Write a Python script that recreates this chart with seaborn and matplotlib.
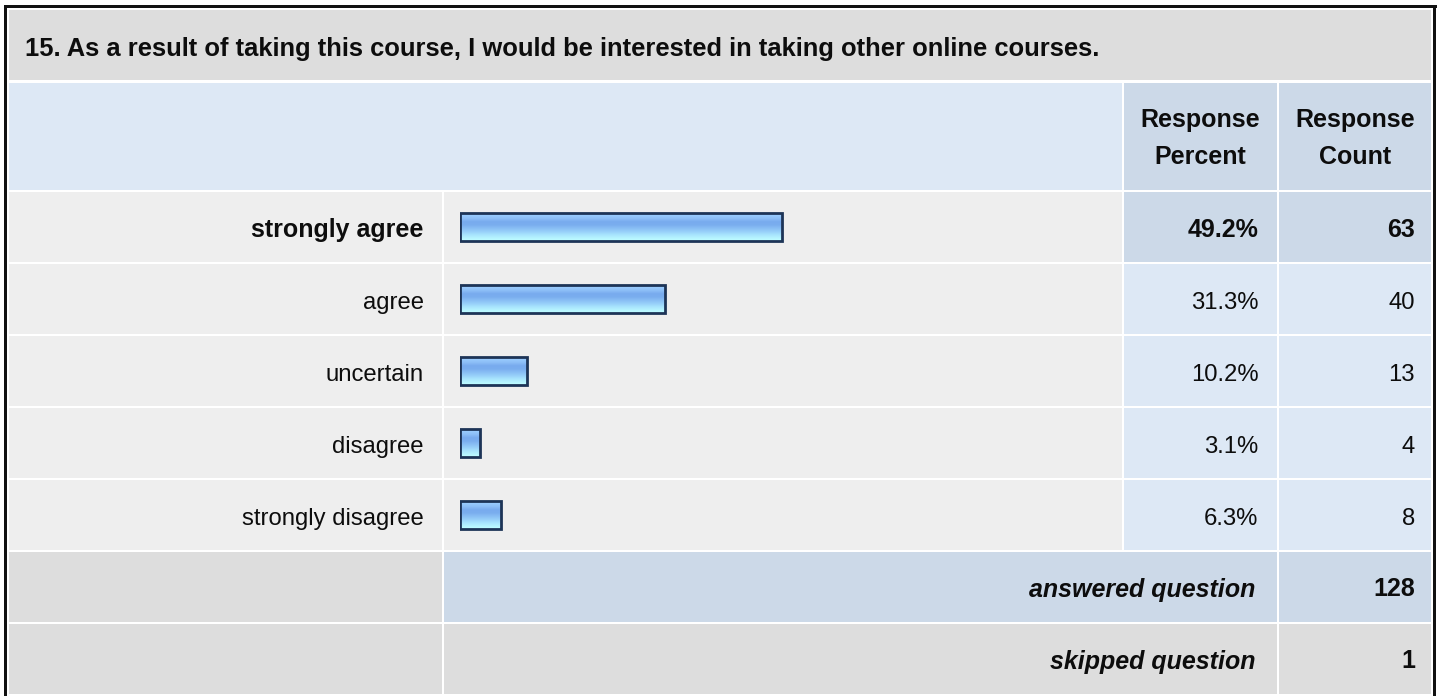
import numpy as np
import pandas as pd
import matplotlib
matplotlib.use("Agg")
import matplotlib.pyplot as plt
from matplotlib.patches import Rectangle
from matplotlib.colors import LinearSegmentedColormap
import seaborn as sns

# ---- survey data -------------------------------------------------------
question = ("15. As a result of taking this course, I would be interested "
            "in taking other online courses.")
categories = ["strongly agree", "agree", "uncertain", "disagree", "strongly disagree"]
percents = [49.2, 31.3, 10.2, 3.1, 6.3]
counts = [63, 40, 13, 4, 8]
header_percent = "Response\nPercent"
header_count = "Response\nCount"
answered_label = "answered question"
skipped_label = "skipped question"
answered_count = 128
skipped_count = 1

# ---- styling -----------------------------------------------------------
sns.set_theme(style="white")
plt.rcParams["font.family"] = ["Liberation Sans", "DejaVu Sans"]

W, H, DPI = 1440, 696, 100
FS_TITLE = 18.4
FS_BOLD = 18.0
FS_REG = 17.2
TXT = "#0D0D0D"
GREY = "#DDDDDD"
ROW_BG = "#EEEEEE"
BLUE_LIGHT = "#DDE8F5"
BLUE_MID = "#CCD9E8"

# table grid (pixels)
X_LABEL = (9, 441.7)
X_BAR = (444, 1121.5)
X_PCT = (1124, 1276.5)
X_CNT = (1279, 1431)
TITLE_Y = (10, 79.5)
HEAD_Y = (83, 190)
ROW0 = 192
PITCH = 72
ROW_H = 70

fig = plt.figure(figsize=(W / DPI, H / DPI), dpi=DPI)
fig.patch.set_facecolor("white")

bg = fig.add_axes([0, 0, 1, 1])
bg.set_xlim(0, W)
bg.set_ylim(H, 0)
bg.axis("off")


def cell(x, y, color):
    bg.add_patch(Rectangle((x[0], y[0]), x[1] - x[0], y[1] - y[0],
                           facecolor=color, edgecolor="none", zorder=1))


# outer frame
for rect in [(4, 5, 3.2, 700), (4, 5, 1432.5, 3.2), (1433, 5, 3.2, 700)]:
    bg.add_patch(Rectangle(rect[:2], rect[2], rect[3], facecolor="#111111",
                           edgecolor="none", zorder=2))

# title row
cell((X_LABEL[0], X_CNT[1]), TITLE_Y, GREY)
bg.text(25, 55.7, question, fontsize=FS_TITLE, fontweight="bold", color=TXT,
        ha="left", va="baseline", zorder=3)

# header row
cell((X_LABEL[0], X_BAR[1]), HEAD_Y, BLUE_LIGHT)
cell(X_PCT, HEAD_Y, BLUE_MID)
cell(X_CNT, HEAD_Y, BLUE_MID)
for xc, txt in [((X_PCT[0] + X_PCT[1]) / 2, header_percent),
                ((X_CNT[0] + X_CNT[1]) / 2, header_count)]:
    for k, line in enumerate(txt.split("\n")):
        bg.text(xc, 127.3 + 36.7 * k, line, fontsize=FS_BOLD, fontweight="bold",
                color=TXT, ha="center", va="baseline", zorder=3)

# response rows
top_choice = int(np.argmax(counts))
for i, (cat, p, c) in enumerate(zip(categories, percents, counts)):
    y = (ROW0 + PITCH * i, ROW0 + PITCH * i + ROW_H)
    base = y[0] + 45
    hi = i == top_choice
    cell(X_LABEL, y, ROW_BG)
    cell(X_BAR, y, ROW_BG)
    cell(X_PCT, y, BLUE_MID if hi else BLUE_LIGHT)
    cell(X_CNT, y, BLUE_MID if hi else BLUE_LIGHT)
    kw = dict(fontsize=FS_BOLD, fontweight="bold") if hi else dict(fontsize=FS_REG)
    bg.text(423.5, base, cat, color=TXT, ha="right", va="baseline", zorder=3, **kw)
    bg.text(1258.5, base, f"{p:.1f}%", color=TXT, ha="right", va="baseline",
            zorder=3, **kw)
    bg.text(1415, base, f"{c}", color=TXT, ha="right", va="baseline",
            zorder=3, **kw)

# summary rows
for j, (lab, val, col) in enumerate([(answered_label, answered_count, BLUE_MID),
                                     (skipped_label, skipped_count, GREY)]):
    k = len(categories) + j
    y = (ROW0 + PITCH * k, ROW0 + PITCH * k + ROW_H)
    base = y[0] + 44.5
    cell(X_LABEL, y, GREY)
    cell((X_BAR[0], X_PCT[1]), y, col)
    cell(X_CNT, y, col)
    bg.text(1255.5, base, lab, fontsize=FS_BOLD, fontweight="bold", style="italic",
            color=TXT, ha="right", va="baseline", zorder=3)
    bg.text(1415, base, f"{val}", fontsize=FS_BOLD, fontweight="bold",
            color=TXT, ha="right", va="baseline", zorder=3)

# ---- bar chart in the middle column ------------------------------------
bx0, bx1 = 460, 1115
by0, by1 = ROW0 - 1, ROW0 - 1 + PITCH * len(categories)
bax = fig.add_axes([bx0 / W, 1 - by1 / H, (bx1 - bx0) / W, (by1 - by0) / H])
bax.patch.set_alpha(0)

df = pd.DataFrame({"category": categories, "percent": percents})
sns.barplot(data=df, x="percent", y="category", orient="h", ax=bax,
            color="#88BBF2", width=0.4, edgecolor="#1D3457", linewidth=2.0,
            saturation=1)
bax.set_xlim(0, 100)
bax.set_ylim(len(categories) - 0.5, -0.5)

grad_cmap = LinearSegmentedColormap.from_list(
    "barshine",
    ["#A2D2FF", "#98CAFD", "#8BBDF6", "#78ABEE", "#7AAEEF",
     "#88BDF4", "#96CEF9", "#A6E2FD", "#B4F2FF", "#C0FFFF"])
grad = np.linspace(0, 1, 64).reshape(-1, 1)
for patch in list(bax.patches):
    x, yb = patch.get_x(), patch.get_y()
    w, h = patch.get_width(), patch.get_height()
    im = bax.imshow(grad, cmap=grad_cmap, aspect="auto", origin="upper",
                    extent=(x, x + w, yb + h, yb), zorder=2,
                    interpolation="bilinear")
    im.set_clip_path(patch)
    patch.set_facecolor("none")
    patch.set_zorder(3)

bax.set_xlim(0, 100)
bax.set_ylim(len(categories) - 0.5, -0.5)
bax.axis("off")

fig.savefig("out.png", dpi=DPI, facecolor="white")
